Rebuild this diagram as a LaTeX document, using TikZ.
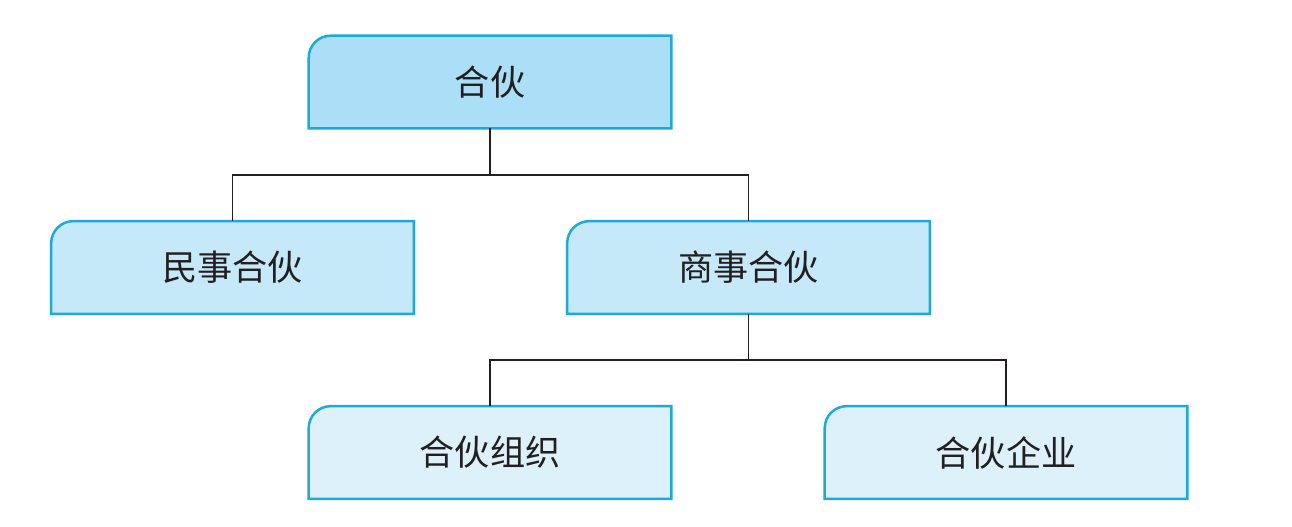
\documentclass[tikz,border=0pt]{standalone}
\usepackage{fontspec}
\setmainfont{Noto Sans CJK SC}
\usetikzlibrary{backgrounds}
\definecolor{boxline}{HTML}{1BA9E1}
\definecolor{toplevel}{HTML}{ABDFF8}
\definecolor{midlevel}{HTML}{C5E9F9}
\definecolor{lowlevel}{HTML}{DDF1FB}
\definecolor{inkgray}{HTML}{231F20}
\begin{document}
\begin{tikzpicture}[x=0.02cm, y=-0.02cm,
    every node/.style={minimum width=7.24cm, minimum height=1.84cm, inner sep=0pt, text=inkgray, font=\fontsize{20}{24}\selectfont},
    link/.style={line width=1.1pt, inkgray}]
        \useasboundingbox (0,0) rectangle (1292,527);
        \node (hh) at (490, 82) {合伙};
        \node (ms) at (232.5, 267.5) {民事合伙};
        \node (ss) at (748.5, 267.5) {商事合伙};
        \node (zz) at (490, 452.5) {合伙组织};
        \node (qy) at (1006, 452.5) {合伙企业};
        \begin{scope}[on background layer]
            \foreach \n/\c in {hh/toplevel, ms/midlevel, ss/midlevel, zz/lowlevel, qy/lowlevel}
                \draw[line width=1.4pt, draw=boxline, fill=\c] (\n.south east) -- (\n.south west) -- ([yshift=-0.44cm]\n.north west) arc[start angle=180, end angle=90, radius=0.44cm] -- (\n.north east) -- cycle;
        \end{scope}
        \draw[link] (hh.south) -- ++(0,47) -| (ms.north);
        \draw[link] (hh.south) -- ++(0,47) -| (ss.north);
        \draw[link] (ss.south) -- ++(0,46) -| (zz.north);
        \draw[link] (ss.south) -- ++(0,46) -| (qy.north);
    \end{tikzpicture}
\end{document}
